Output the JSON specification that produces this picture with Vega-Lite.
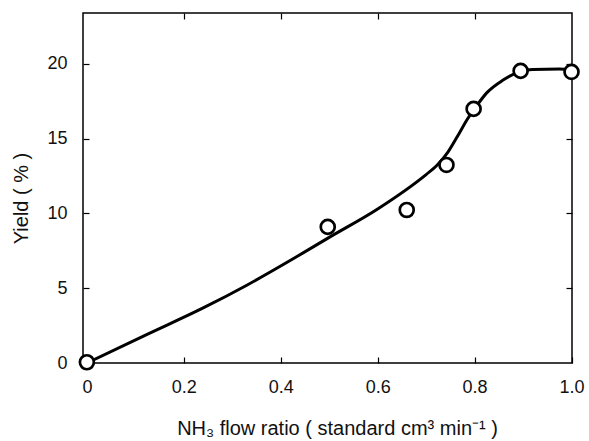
{
  "$schema": "https://vega.github.io/schema/vega-lite/v6.json",
  "autosize": "none",
  "width": 489,
  "height": 350,
  "padding": {"left": 83, "top": 13, "right": 17, "bottom": 78},
  "background": "white",
  "config": {
    "view": {"stroke": "black", "strokeWidth": 1.5},
    "font": "Liberation Sans",
    "axis": {
      "domain": false, "grid": false, "tickColor": "black", "tickWidth": 1.2,
      "labelFont": "Liberation Sans", "labelFontSize": 18, "labelColor": "#111",
      "titleFont": "Liberation Sans", "titleFontSize": 20, "titleFontWeight": "normal", "titleColor": "#111"
    }
  },
  "datasets": {
    "curve": [
      {"x": 0.0, "y": 0.0},
      {"x": 0.12, "y": 1.85},
      {"x": 0.24, "y": 3.68},
      {"x": 0.33, "y": 5.2},
      {"x": 0.43, "y": 7.05},
      {"x": 0.5, "y": 8.4},
      {"x": 0.6, "y": 10.3},
      {"x": 0.7, "y": 12.6},
      {"x": 0.722, "y": 13.2},
      {"x": 0.745, "y": 14.1},
      {"x": 0.769, "y": 15.4},
      {"x": 0.785, "y": 16.3},
      {"x": 0.8, "y": 17.0},
      {"x": 0.825, "y": 18.06},
      {"x": 0.858, "y": 18.9},
      {"x": 0.895, "y": 19.5},
      {"x": 0.92, "y": 19.62},
      {"x": 0.975, "y": 19.65},
      {"x": 1.0, "y": 19.6}
    ],
    "points": [
      {"x": 0.0, "y": 0.05},
      {"x": 0.497, "y": 9.1},
      {"x": 0.66, "y": 10.23},
      {"x": 0.742, "y": 13.24},
      {"x": 0.798, "y": 16.99},
      {"x": 0.895, "y": 19.53},
      {"x": 1.0, "y": 19.46}
    ]
  },
  "resolve": {"axis": {"x": "independent", "y": "independent"}},
  "layer": [
    {
      "data": {"name": "curve"},
      "mark": {"type": "line", "interpolate": "monotone", "stroke": "black", "strokeWidth": 3, "clip": true},
      "encoding": {
        "x": {"field": "x", "type": "quantitative",
          "scale": {"domain": [-0.008, 1.001], "nice": false, "zero": false},
          "axis": {"orient": "bottom", "values": [0, 0.2, 0.4, 0.6, 0.8, 1.0], "tickSize": -6,
            "labelPadding": 21, "labelFlush": false,
            "labelExpr": "datum.value == 0 ? '0' : format(datum.value, '.1f')",
            "title": "NH₃ flow ratio ( standard cm³ min⁻¹ )", "titlePadding": 22, "titleX": 254}},
        "y": {"field": "y", "type": "quantitative",
          "scale": {"domain": [0, 23.4], "nice": false},
          "axis": {"orient": "left", "values": [0, 5, 10, 15, 20], "tickSize": -6,
            "labelPadding": 22, "labelFlush": false,
            "title": "Yield ( % )", "titlePadding": 15, "titleY": 185}}
      }
    },
    {
      "data": {"name": "points"},
      "mark": {"type": "point", "shape": "circle", "filled": false, "fill": "white", "fillOpacity": 1, "stroke": "black", "strokeWidth": 2.7, "size": 195, "opacity": 1, "clip": false},
      "encoding": {
        "x": {"field": "x", "type": "quantitative",
          "axis": {"orient": "top", "values": [0.2, 0.4, 0.6, 0.8], "tickSize": -6, "labels": false, "title": null}},
        "y": {"field": "y", "type": "quantitative",
          "axis": {"orient": "right", "values": [5, 10, 15, 20], "tickSize": -6, "labels": false, "title": null}}
      }
    }
  ]
}
